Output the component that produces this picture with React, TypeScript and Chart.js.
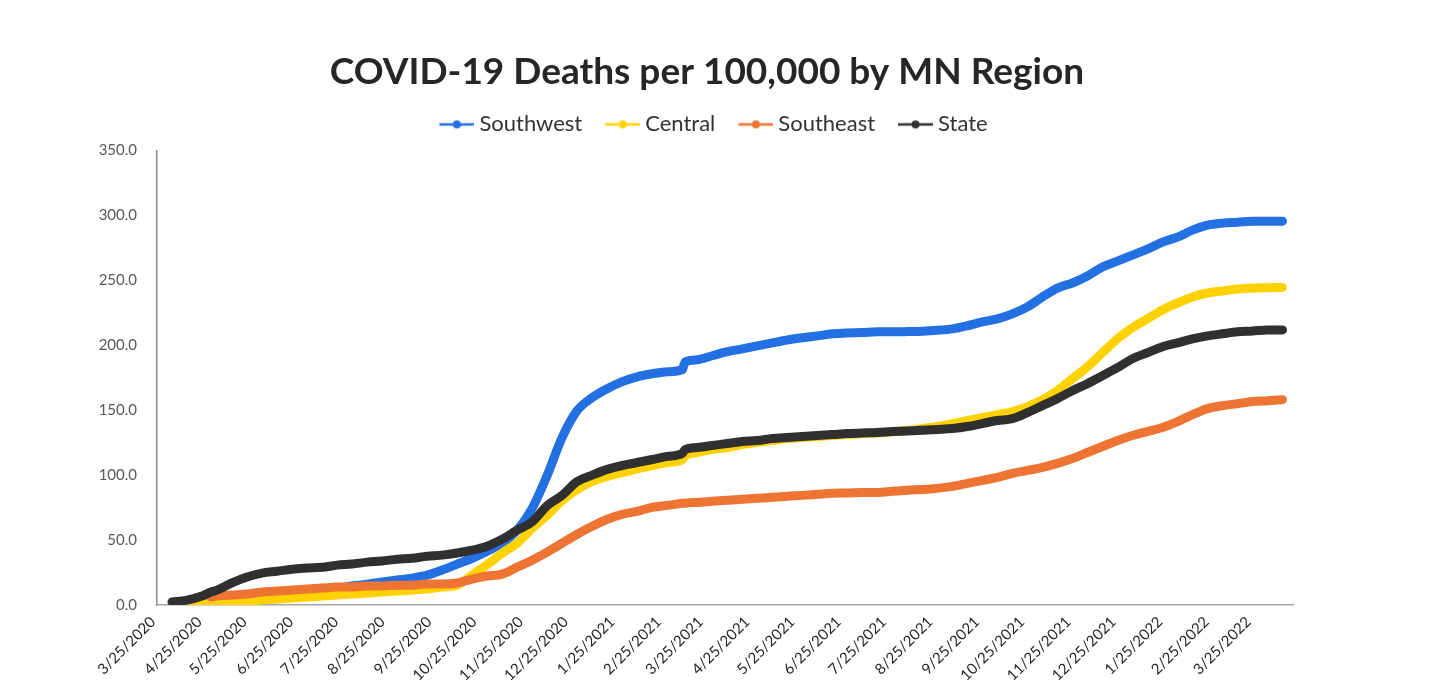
import { useEffect, useRef } from 'react';
import { Chart, registerables } from 'chart.js';

Chart.register(...registerables);
Chart.defaults.font.family = 'Lato';

// Days since 3/25/2020 at which each cumulative value was sampled
const dayOffsets = [
  10, 20, 30, 36, 40, 50, 60, 70, 80, 90, 100, 110, 120, 130, 140, 150, 160, 170, 180, 190,
  200, 210, 220, 230, 240, 250, 260, 270, 280, 290, 300, 310, 320, 330, 340, 350, 352, 360, 370, 380,
  390, 400, 410, 420, 430, 440, 450, 460, 470, 480, 490, 500, 510, 520, 530, 540, 550, 560, 570, 580,
  590, 600, 610, 620, 630, 640, 650, 660, 670, 680, 690, 700, 710, 720, 730, 740, 750,
];

// Cumulative COVID-19 deaths per 100,000 residents
const southwest = [
  0, 0.3, 0.8, 1.1, 1.5, 3, 4.6, 6, 7.7, 9.2, 10, 11.5, 13, 14.6, 16, 17.7, 19.2, 20.7, 23, 26.9,
  31.5, 36, 41.4, 47.6, 57.6, 74.4, 99.8, 129, 149.7, 159.6, 166.5, 172, 175.7, 178, 179.6, 181.1, 187.3, 188.8, 191.9, 195,
  197.2, 199.5, 201.8, 204, 205.7, 207.2, 208.8, 209.5, 209.8, 210.3, 210.3, 210.5, 210.8, 211.5, 212.6, 215, 218, 220.3, 224.1, 229.5,
  237.1, 244, 247.9, 253.3, 260.2, 264.8, 269.4, 274, 279.4, 283.2, 288.6, 292.4, 294, 294.7, 295.5, 295.5, 295.5,
];

const central = [
  0, 0.3, 0.8, 1.1, 1.5, 2.3, 3, 3.8, 4.6, 5.4, 6.1, 6.9, 7.7, 8.4, 9.2, 10, 10.7, 11.5, 12.3, 13.8,
  15.3, 23, 31, 39.9, 47.6, 59.1, 69.1, 80.6, 89, 95.2, 99, 102, 104.8, 107.4, 109.7, 112, 115.1, 117.4, 119.7, 121.3,
  123.6, 125.1, 126.6, 128.2, 129, 129.7, 130.5, 131.2, 132, 132.4, 133.4, 134.3, 135.8, 137.4, 139.7, 142, 144.3, 146.6, 148.9, 152.7,
  158.1, 165, 174.2, 183.4, 194.2, 204.9, 213.4, 220.3, 227.2, 232.5, 237.1, 240.2, 241.8, 243.3, 244, 244.3, 244.5,
];

const southeast = [
  null, null, null, 6.1, 6.9, 7.7, 8.4, 10, 10.7, 11.5, 12.3, 13, 13.8, 13.8, 14.6, 14.6, 15.3, 15.3, 16.1, 16.1,
  16.9, 20, 22.3, 23.8, 29.2, 34.5, 40.7, 47.6, 54.5, 60.6, 66, 69.8, 72.1, 75.2, 76.7, 78.3, 78.4, 79, 79.8, 80.6,
  81.4, 82.1, 82.9, 83.7, 84.4, 85.2, 86, 86.3, 86.7, 86.7, 87.5, 88.3, 89, 89.8, 91.3, 93.6, 95.9, 98.2, 101.3, 103.6,
  105.9, 109, 112.8, 117.4, 122, 126.6, 130.5, 133.5, 136.6, 141.2, 146.6, 151.2, 153.5, 155, 156.6, 157.3, 158.1,
];

const state = [
  2.3, 3.8, 6.9, 10, 11.5, 17, 21.5, 24.6, 26, 27.6, 28.4, 29, 30.7, 31.5, 33, 33.8, 35.3, 36, 37.6, 38.4,
  40, 42.2, 45.3, 50.7, 57.6, 64, 76.5, 84.5, 95, 100, 104.4, 107.4, 109.7, 112, 114.4, 116.7, 119.7, 121.3, 122.8, 124.3,
  125.9, 126.6, 128.2, 129, 129.7, 130.5, 131.2, 132, 132.4, 132.8, 133.5, 134, 134.6, 135.2, 135.9, 137.4, 139.7, 142, 143.5, 148.1,
  153.5, 158.9, 165, 170.4, 176.5, 182.7, 189.6, 194.2, 198.8, 201.8, 204.9, 207.2, 208.8, 210.3, 211, 211.8, 211.8,
];

const seriesNames = ['Southwest', 'Central', 'Southeast', 'State'];
const seriesColors = ['#2270e2', '#ffd200', '#ee7433', '#303030'];
const seriesValues = [southwest, central, southeast, state];

const xTickLabels = [
  '3/25/2020', '4/25/2020', '5/25/2020', '6/25/2020', '7/25/2020', '8/25/2020', '9/25/2020',
  '10/25/2020', '11/25/2020', '12/25/2020', '1/25/2021', '2/25/2021', '3/25/2021', '4/25/2021',
  '5/25/2021', '6/25/2021', '7/25/2021', '8/25/2021', '9/25/2021', '10/25/2021', '11/25/2021',
  '12/25/2021', '1/25/2022', '2/25/2022', '3/25/2022',
];

const Y_MAX = 350;
const Y_STEP = 50;
const X_MAX_DAY = 757;
const LEGEND_GAP = 5;
const HEADER_SHIFT = 26.5;

const dayOf = (label: string) => {
  const [m, d, y] = label.split('/').map(Number);
  return Math.round((Date.UTC(y, m - 1, d) - Date.UTC(2020, 2, 25)) / 86400000);
};
const tickDays = xTickLabels.map(dayOf);

// Excel-style legend marker: a short line with a dot in the middle
function legendMarker(color: string) {
  const c = document.createElement('canvas');
  c.width = 54;
  c.height = 12;
  const ctx = c.getContext('2d')!;
  ctx.strokeStyle = color;
  ctx.lineWidth = 2.5;
  ctx.beginPath();
  ctx.moveTo(19, 6);
  ctx.lineTo(54, 6);
  ctx.stroke();
  ctx.fillStyle = color;
  ctx.beginPath();
  ctx.arc(36.5, 6, 4, 0, Math.PI * 2);
  ctx.fill();
  return c;
}

// Adds a little room between the legend row and the plot
const legendGapPlugin = {
  id: 'legendGap',
  beforeLayout(chart: any) {
    const legend = chart.legend;
    if (legend && !legend.__gapPatched) {
      const fit = legend.fit;
      legend.fit = function () {
        fit.call(this);
        this.height += LEGEND_GAP;
      };
      legend.__gapPatched = true;
    }
  },
};

// Centres the title and legend a little to the right of the padded box
const headerShiftPlugin = {
  id: 'headerShift',
  afterLayout(chart: any) {
    for (const box of [chart.titleBlock, chart.legend]) {
      if (box) {
        box.left += HEADER_SHIFT;
        box.right += HEADER_SHIFT;
      }
    }
  },
};

export default function App() {
  const canvasRef = useRef<HTMLCanvasElement | null>(null);

  useEffect(() => {
    if (!canvasRef.current) return;
    const markers = seriesColors.map(legendMarker);
    const datasets = seriesNames.map((name, i) => ({
      label: name,
      data: dayOffsets
        .map((d, k) => ({ x: d, y: seriesValues[i][k] }))
        .filter((p) => p.y !== null && p.y !== undefined),
      borderColor: seriesColors[i],
      backgroundColor: seriesColors[i],
      borderWidth: 9,
      borderCapStyle: 'round' as const,
      borderJoinStyle: 'round' as const,
      pointRadius: 0,
      cubicInterpolationMode: 'monotone' as const,
      fill: false,
      // later series sit on top of earlier ones
      order: seriesNames.length - 1 - i,
    }));

    const chart = new Chart(canvasRef.current, {
      type: 'line',
      data: { datasets },
      plugins: [legendGapPlugin, headerShiftPlugin],
      options: {
        animation: false,
        responsive: true,
        maintainAspectRatio: false,
        layout: { padding: { left: 60, right: 139, top: 0, bottom: 0 } },
        plugins: {
          title: {
            display: true,
            text: 'COVID-19 Deaths per 100,000 by MN Region',
            color: '#262626',
            font: { family: 'Lato', size: 37, weight: 'bold', lineHeight: 1.2 },
            padding: { top: 42, bottom: 9 },
          },
          legend: {
            display: true,
            position: 'top',
            labels: {
              usePointStyle: true,
              pointStyleWidth: 42,
              padding: 10,
              color: '#333333',
              font: { family: 'Lato', size: 22 },
              sort: (a: any, b: any) => a.datasetIndex - b.datasetIndex,
              generateLabels: (c: any) => {
                const items = (Chart.defaults.plugins.legend.labels as any).generateLabels(c);
                items.forEach((it: any) => {
                  it.pointStyle = markers[it.datasetIndex];
                });
                return items;
              },
            },
          },
          tooltip: { enabled: false },
        },
        scales: {
          x: {
            type: 'linear',
            min: 0,
            max: X_MAX_DAY,
            grid: { display: false, drawTicks: false },
            border: { display: true, color: '#a6a6a6', width: 1.5 },
            afterBuildTicks: (scale: any) => {
              scale.ticks = tickDays.map((v) => ({ value: v }));
            },
            afterFit: (scale: any) => {
              scale.height = 87;
            },
            ticks: {
              autoSkip: false,
              maxRotation: 45,
              minRotation: 45,
              padding: 8,
              labelOffset: -4,
              color: '#262626',
              font: { family: 'Lato', size: 15 },
              callback: (value: any) => {
                const idx = tickDays.indexOf(Number(value));
                return idx >= 0 ? xTickLabels[idx] : '';
              },
            },
          },
          y: {
            type: 'linear',
            min: 0,
            max: Y_MAX,
            grid: { display: false, drawTicks: false },
            border: { display: true, color: '#8c8c8c', width: 1.5 },
            afterFit: (scale: any) => {
              scale.width = 89;
            },
            ticks: {
              stepSize: Y_STEP,
              padding: 20,
              color: '#595959',
              font: { family: 'Lato', size: 15 },
              callback: (value: any) => Number(value).toFixed(1),
            },
          },
        },
      },
    });

    return () => chart.destroy();
  }, []);

  return (
    <div style={{ width: 1424, height: 684, position: 'relative' }}>
      <canvas ref={canvasRef} />
    </div>
  );
}
